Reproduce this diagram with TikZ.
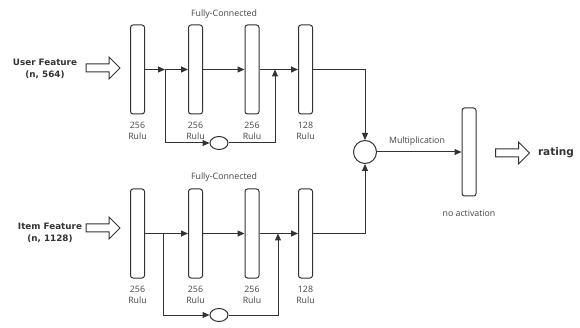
\documentclass[tikz,border=0pt]{standalone}
\usepackage{fontspec}
\setmainfont{Open Sans}
\newfontfamily\featfont{DejaVu Sans}
\usetikzlibrary{arrows.meta,shapes.geometric,shapes.arrows}
\definecolor{ink}{HTML}{333333}
\definecolor{txt}{HTML}{444444}
\tikzset{
  layer/.style={draw=ink, fill=white, rounded corners=2.5pt, minimum width=14pt,
                minimum height=89pt, inner sep=0pt, line width=1pt},
  joint/.style={draw=ink, ellipse, minimum width=18pt, minimum height=13pt,
                inner sep=0pt, line width=1pt},
  hollow/.style={draw=ink, single arrow, single arrow head extend=7pt, inner sep=3.5pt,
                 minimum height=34pt, line width=1pt},
  note/.style={font=\fontsize{8.8}{11}\selectfont, color=txt, align=center},
  feat/.style={font=\featfont\bfseries\fontsize{8.8}{12}\selectfont, color=ink, align=center},
  arr/.style={-{Triangle[length=7pt,width=6pt]}, draw=ink, line width=1pt},
}
\begin{document}
\begin{tikzpicture}[x=1pt,y=-1pt]
  \useasboundingbox (0,0) rectangle (580,328);
  % user tower
  \node[feat] (uf) at (45,69) {User Feature\\(n, 564)};
  \node[hollow] (ua) at (101,68) {};
  \node[note] (ufc) at (224,14) {Fully-Connected};
  \node[layer] (u1) at (137.5,69.5) {};
  \node[layer] (u2) at (195.5,69.5) {};
  \node[layer] (u3) at (252,69.5) {};
  \node[layer] (u4) at (305.5,69.5) {};
  \node[note] (ul1) at (137.5,130.5) {256\\Rulu};
  \node[note] (ul2) at (195.5,130.5) {256\\Rulu};
  \node[note] (ul3) at (252,130.5) {256\\Rulu};
  \node[note] (ul4) at (305.5,130.5) {128\\Rulu};
  \node[joint] (us) at (219,143) {};
  \coordinate (ub) at (165,69.5);
  \coordinate (uj) at (275,69.5);
  \draw[arr] (u1.east) -- (ub);
  \draw[arr] (ub) -- (u2.west);
  \draw[arr] (u2.east) -- (u3.west);
  \draw[arr] (u3.east) -- (u4.west);
  \draw[arr] (ub) |- (us.west);
  \draw[arr] (us.east) -| (uj);
  % item tower
  \node[feat] (if) at (50,233) {Item Feature\\(n, 1128)};
  \node[hollow] (ia) at (101,228) {};
  \node[note] (ifc) at (224,177) {Fully-Connected};
  \node[layer] (i1) at (137.5,233.5) {};
  \node[layer] (i2) at (195.5,233.5) {};
  \node[layer] (i3) at (252,233.5) {};
  \node[layer] (i4) at (305.5,233.5) {};
  \node[note] (il1) at (137.5,294.5) {256\\Rulu};
  \node[note] (il2) at (195.5,294.5) {256\\Rulu};
  \node[note] (il3) at (252,294.5) {256\\Rulu};
  \node[note] (il4) at (305.5,294.5) {128\\Rulu};
  \node[joint] (is) at (219,315) {};
  \coordinate (ib) at (163,233.5);
  \coordinate (ij) at (278,233.5);
  \draw[arr] (i1.east) -- (i2.west);
  \draw[arr] (i2.east) -- (i3.west);
  \draw[arr] (i3.east) -- (i4.west);
  \draw[arr] (ib) |- (is.west);
  \draw[arr] (is.east) -| (ij);
  % merge
  \node[draw=ink, circle, minimum size=23pt, inner sep=0pt, line width=1pt] (mul) at (365,152) {};
  \node[layer, minimum height=88pt] (out) at (469,152) {};
  \node[note] (mt) at (417,141) {Multiplication};
  \node[note] (nt) at (469,213) {no activation};
  \node[hollow] (ra) at (510.5,153) {};
  \node[feat, font=\featfont\bfseries\fontsize{10.5}{12}\selectfont] (rt) at (556,153) {rating};
  \draw[arr] (u4.east) -| (mul.north);
  \draw[arr] (i4.east) -| (mul.south);
  \draw[arr] (mul.east) -- (out.west);
\end{tikzpicture}
\end{document}
